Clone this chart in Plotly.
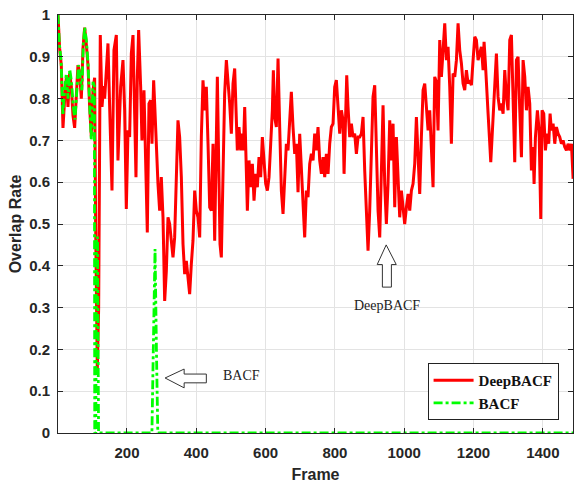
import plotly.graph_objects as go

# ---------------- data ----------------
deep_frames = [1, 5.7, 10.5, 15.4, 20.2, 25, 29.8, 34.6, 39.4, 44.2, 49, 53.8, 58.6, 63.5, 68.3, 73.1, 77.9,
               82.7, 87.5, 92.3, 97.1, 102, 106.7, 109.6, 114.4, 118.3, 123, 128, 132.7, 135.6, 140.4, 145.2,
               151, 156.8, 162.5, 169.3, 174, 181.8, 188.5, 193.3, 198.1, 203, 207.7, 212.6, 217.4, 222.2,
               226, 229.9, 233.7, 239.5, 243.3, 249.1, 253, 258.7, 263.5, 268.4, 272.2, 277, 279.9, 284.7,
               289.5, 294.3, 299.1, 304, 308.8, 313.6, 318.4, 323.2, 328, 332.8, 337.6, 342.4, 347.2, 352,
               356.9, 361.7, 366.5, 371.3, 376.1, 380.9,
               385.7, 390.5, 395.4, 400.2, 405, 409.8, 414.6, 419.4, 424.2, 429, 433.9, 438.7, 443.5, 448.3,
               453.1, 457.9, 460.8, 464.6, 468.5, 472.3, 477.1, 481.9, 486.8, 491.6, 496.4, 501.2, 506, 510.8,
               515.6, 518.5, 523.3, 528.1, 532, 535.8, 539.7, 544.5, 547.4, 552.2, 557, 561.8, 566.6, 571.4,
               576.2, 581, 585.8, 590.6, 595.5, 600.3, 605.1, 609.9, 614.7, 619.5, 622.4, 626.2, 631, 635.9,
               640.7, 645.5, 650.3, 655.1, 659.9, 664.7, 669.5, 674.3, 679.1, 684, 688.8, 693.6, 698.4, 703.2,
               708, 712.8, 717.6, 722.4, 727.3, 732.1, 736.9, 741.7,
               746.5, 751.3, 756.1, 761, 765.8, 770.6, 775.4, 780.2, 785, 789.8, 794.6, 799.4, 804.2, 809,
               813.9, 818.7, 823.5, 826.4, 830.2, 834.1, 837.9, 842.7, 847.5, 852.3, 857.1, 862, 866.8, 871.6,
               876.4, 881.2, 886, 890.8, 895.6, 900.4, 905.2, 910, 914.9, 919.7, 924.5, 929.3, 934.1, 938.9,
               943.7, 948.5, 953.3, 958.2, 963, 967.8, 972.6, 977.4, 982.2, 987, 991.8, 996.6, 1001.4, 1006.3,
               1011.1, 1015.9, 1020.7, 1025.5, 1030.3, 1035.1, 1039.9, 1044.7, 1049.5, 1054.4, 1059.2, 1064,
               1068.8, 1073.6, 1078.4, 1083.2, 1088, 1092.8, 1097.6, 1102.5, 1107.3, 1112.1, 1116.9,
               1121.7, 1126.5, 1131.3, 1136.1, 1141, 1145.8, 1150.6, 1155.4, 1160.2, 1165, 1169.8, 1174.6,
               1179.4, 1184.2, 1189, 1193.9, 1198.7, 1203.5, 1208.3, 1213.1, 1217.9, 1222.7, 1227.5, 1230.4,
               1234.3, 1238.1, 1242, 1245.8, 1249.7, 1253.5, 1257.4, 1261.2, 1266, 1270.8, 1275.6, 1280.4,
               1285.3, 1290.1, 1294.9, 1299.7, 1304.5, 1309.3, 1314.1, 1318.9, 1323.7, 1328.5, 1333.4, 1338.2,
               1343, 1347.8, 1352.6, 1357.4, 1362.2, 1367, 1371.8, 1374.7, 1378.6, 1384.3, 1389.2, 1394,
               1397.8, 1402.6, 1407.4, 1412.2, 1417, 1420.9, 1424.7, 1429.6, 1434.4, 1439.2, 1444, 1448.8,
               1453.6, 1458.4, 1463.2, 1468, 1472.8, 1477.7, 1482.5, 1487.3]
deep_values = [1.0, 0.92, 0.88, 0.73, 0.80, 0.85, 0.78, 0.86, 0.83, 0.76, 0.73, 0.82, 0.88, 0.86, 0.80, 0.92, 0.97,
               0.93, 0.88, 0.78, 0.71, 0.82, 0.85, 0.50, 0.15, 0.30, 0.952, 0.78, 0.83, 0.80, 0.88, 0.932,
               0.75, 0.58, 0.916, 0.952, 0.652, 0.828, 0.892, 0.772, 0.536, 0.724, 0.708, 0.908, 0.952, 0.772,
               0.612, 0.852, 0.964, 0.828, 0.70, 0.82, 0.692, 0.48, 0.788, 0.796, 0.692, 0.844, 0.788, 0.676,
               0.596, 0.532, 0.612, 0.516, 0.316, 0.388, 0.516, 0.50, 0.452, 0.42, 0.468, 0.612, 0.748, 0.708,
               0.612, 0.452, 0.38, 0.412, 0.372, 0.332,
               0.404, 0.46, 0.58, 0.532, 0.516, 0.468, 0.708, 0.844, 0.772, 0.828, 0.692, 0.54, 0.532, 0.692,
               0.46, 0.70, 0.852, 0.652, 0.452, 0.42, 0.612, 0.812, 0.892, 0.844, 0.788, 0.716, 0.836, 0.872,
               0.772, 0.676, 0.732, 0.676, 0.716, 0.676, 0.78, 0.58, 0.532, 0.652, 0.588, 0.644, 0.556, 0.62,
               0.588, 0.66, 0.612, 0.708, 0.636, 0.596, 0.58, 0.612, 0.692, 0.772, 0.868, 0.756, 0.732, 0.896,
               0.732, 0.58, 0.524, 0.612, 0.692, 0.676, 0.756, 0.816, 0.732, 0.668, 0.692, 0.576, 0.716, 0.62,
               0.564, 0.468, 0.58, 0.564, 0.644, 0.668, 0.652, 0.716,
               0.676, 0.732, 0.652, 0.62, 0.66, 0.612, 0.668, 0.62, 0.692, 0.732, 0.74, 0.828, 0.844, 0.772,
               0.716, 0.772, 0.748, 0.62, 0.748, 0.856, 0.78, 0.708, 0.74, 0.708, 0.716, 0.668, 0.708, 0.708,
               0.716, 0.756, 0.628, 0.532, 0.436, 0.532, 0.692, 0.804, 0.832, 0.708, 0.532, 0.468, 0.612, 0.784,
               0.596, 0.50, 0.596, 0.748, 0.652, 0.74, 0.54, 0.708, 0.612, 0.516, 0.58, 0.532, 0.50, 0.54,
               0.572, 0.532, 0.58, 0.596, 0.644, 0.756, 0.676, 0.572, 0.708, 0.82, 0.836, 0.772,
               0.724, 0.772, 0.66, 0.588, 0.852, 0.84, 0.724, 0.94, 0.852, 0.932, 0.98,
               0.892, 0.924, 0.828, 0.692, 0.86, 0.852, 0.892, 0.98, 0.916, 0.884, 0.836, 0.82,
               0.868, 0.836, 0.844, 0.832, 0.892, 0.948, 0.94, 0.892, 0.908, 0.924, 0.868, 0.936,
               0.884, 0.812, 0.764, 0.708, 0.648, 0.708, 0.772, 0.852, 0.908, 0.804, 0.772, 0.788,
               0.764, 0.868, 0.804, 0.772, 0.94, 0.952, 0.812, 0.648, 0.892, 0.90, 0.772, 0.66,
               0.892, 0.852, 0.772, 0.828, 0.788, 0.628, 0.684, 0.596, 0.708, 0.772, 0.724, 0.512,
               0.772, 0.764, 0.676, 0.716, 0.692, 0.764, 0.724, 0.74, 0.692, 0.732, 0.716, 0.708,
               0.692, 0.70, 0.684, 0.676, 0.692, 0.676, 0.692, 0.608]

bacf_frames = [1, 5, 10, 15, 20, 25, 30, 35, 40, 45, 50, 55, 60, 65, 70, 74, 78, 83, 88, 92, 97, 102, 106,
               107, 110, 112, 115, 118, 272, 276, 281, 285, 289, 1487]
bacf_values = [1.0, 0.93, 0.89, 0.76, 0.82, 0.86, 0.80, 0.87, 0.84, 0.78, 0.75, 0.83, 0.88, 0.85, 0.82, 0.93,
               0.97, 0.94, 0.88, 0.79, 0.70, 0.84, 0.83, 0.0, 0.0, 0.46, 0.47, 0.0, 0.0, 0.2, 0.44, 0.2, 0.0, 0.0]

x_ticks = [200, 400, 600, 800, 1000, 1200, 1400]
y_ticks = [0, 0.1, 0.2, 0.3, 0.4, 0.5, 0.6, 0.7, 0.8, 0.9, 1]
y_tick_labels = ["0", "0.1", "0.2", "0.3", "0.4", "0.5", "0.6", "0.7", "0.8", "0.9", "1"]

# ---------------- figure ----------------
fig = go.Figure()
fig.add_trace(go.Scatter(x=deep_frames, y=deep_values, mode="lines", name="DeepBACF",
                         line=dict(color="#FF0000", width=3)))
fig.add_trace(go.Scatter(x=bacf_frames, y=bacf_values, mode="lines", name="BACF",
                         line=dict(color="#00FF00", width=2.8, dash="9px,3px,3px,3px")))

axis_font = dict(family="Arial, Liberation Sans, sans-serif", size=15, color="#262626", weight="bold")
title_font = dict(family="Arial, Liberation Sans, sans-serif", size=16, color="#262626", weight="bold")

fig.update_xaxes(range=[1, 1487], tickvals=x_ticks, ticks="inside", ticklen=5, tickcolor="#262626",
                 showline=True, linecolor="#262626", linewidth=1, mirror="ticks",
                 showgrid=True, gridcolor="#E3E3E3", gridwidth=1, zeroline=False,
                 tickfont=axis_font, ticklabelstandoff=6,
                 title=dict(text="Frame", font=title_font, standoff=8))
fig.update_yaxes(range=[0, 1], tickvals=y_ticks, ticktext=y_tick_labels, ticks="inside", ticklen=5,
                 tickcolor="#262626", showline=True, linecolor="#262626", linewidth=1, mirror="ticks",
                 showgrid=True, gridcolor="#E3E3E3", gridwidth=1, zeroline=False,
                 tickfont=axis_font, ticklabelstandoff=4,
                 title=dict(text="Overlap Rate", font=title_font, standoff=3))

# hollow arrows (annotation glyphs)
left_arrow = "M 310,0.1316 L 365,0.153 L 365,0.141 L 429,0.141 L 429,0.120 L 365,0.120 L 365,0.108 Z"
up_arrow = "M 948,0.450 L 977,0.403 L 963,0.403 L 963,0.349 L 937,0.349 L 937,0.403 L 922,0.403 Z"
for p in (left_arrow, up_arrow):
    fig.add_shape(type="path", path=p, xref="x", yref="y", line=dict(color="#333333", width=1),
                  fillcolor="white")

fig.add_annotation(x=530, y=0.137, xref="x", yref="y", text="BACF", showarrow=False,
                   font=dict(family="Liberation Serif, Times New Roman, serif", size=14, color="#222222"))
fig.add_annotation(x=950, y=0.305, xref="x", yref="y", text="DeepBACF", showarrow=False,
                   font=dict(family="Liberation Serif, Times New Roman, serif", size=14, color="#222222"))

fig.update_layout(
    width=574, height=486,
    margin=dict(l=58, r=1, t=15, b=53),
    paper_bgcolor="white", plot_bgcolor="white",
    legend=dict(x=0.972, y=0.031, xanchor="right", yanchor="bottom",
                bgcolor="white", bordercolor="#222222", borderwidth=1,
                font=dict(family="Liberation Serif, Times New Roman, serif", size=15, color="#111111",
                          weight="bold"),
                tracegroupgap=0, itemwidth=40),
    showlegend=True,
)

fig.write_html("out.html")
